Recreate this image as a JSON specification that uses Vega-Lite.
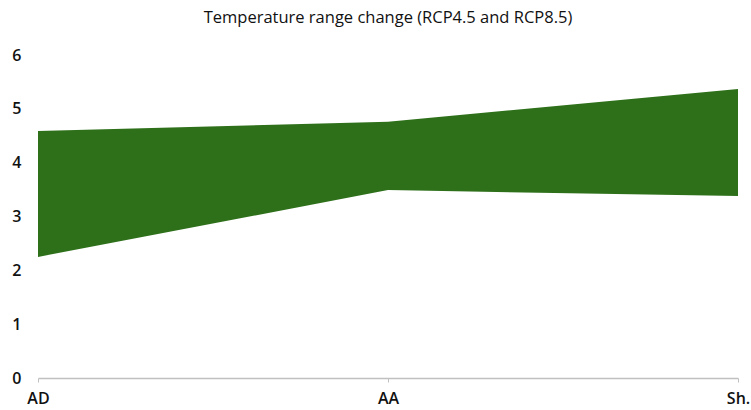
{
  "$schema": "https://vega.github.io/schema/vega-lite/v6.json",
  "width": 700,
  "height": 323,
  "autosize": {"type": "none"},
  "padding": {"left": 38, "top": 55, "right": 13, "bottom": 32},
  "background": "white",
  "title": {
    "text": "Temperature range change (RCP4.5 and RCP8.5)",
    "font": "Open Sans",
    "fontSize": 16.5,
    "fontWeight": "normal",
    "color": "#111111",
    "anchor": "middle",
    "offset": 21
  },
  "data": {
    "values": [
      {"region": "AD", "low": 2.25, "high": 4.59},
      {"region": "AA", "low": 3.49, "high": 4.76},
      {"region": "Sh.", "low": 3.38, "high": 5.37}
    ]
  },
  "mark": {"type": "area", "color": "#2e701a", "opacity": 1},
  "encoding": {
    "x": {
      "field": "region",
      "type": "nominal",
      "sort": ["AD", "AA", "Sh."],
      "scale": {"type": "point", "padding": 0},
      "axis": {
        "title": null,
        "labelAngle": 0,
        "labelFont": "Open Sans",
        "labelFontSize": 16,
        "labelFontWeight": 600,
        "labelColor": "#111111",
        "labelPadding": 8,
        "labelOverlap": false,
        "domainColor": "#c0c0c0",
        "domainWidth": 1.5,
        "tickColor": "#c0c0c0",
        "tickSize": 4,
        "grid": false
      }
    },
    "y": {
      "field": "high",
      "type": "quantitative",
      "scale": {"domain": [0, 6], "nice": false},
      "axis": {
        "title": null,
        "values": [0, 1, 2, 3, 4, 5, 6],
        "domain": false,
        "ticks": false,
        "grid": false,
        "labelOverlap": false,
        "labelFont": "Open Sans",
        "labelFontSize": 16,
        "labelFontWeight": 600,
        "labelColor": "#111111",
        "labelPadding": 17
      }
    },
    "y2": {"field": "low"}
  },
  "config": {"view": {"stroke": null}}
}
